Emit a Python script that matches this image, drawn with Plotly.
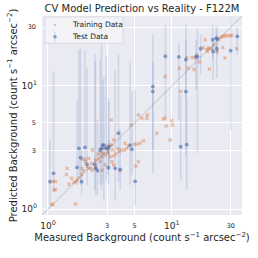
import plotly.graph_objects as go

# Training data (measured, predicted)
train_measured = [1.07, 1.10, 1.67, 1.12, 1.15, 1.43, 1.41, 1.48, 1.55, 1.62, 1.67, 1.72, 1.78, 1.87, 1.89,
                  1.95, 2.01, 2.07, 2.14, 2.21, 2.28, 2.25, 2.42, 2.46, 1.89, 1.99, 2.14, 2.28, 2.42, 2.54,
                  2.66, 2.78, 2.78, 2.92, 3.01, 2.58, 1.11, 1.15,
                  3.24, 5.38, 5.73, 6.36, 6.29, 4.70, 8.55, 8.83, 10.0, 10.1, 7.57, 9.69, 5.90, 5.55, 5.22,
                  4.99, 4.47, 4.34, 4.20, 4.15, 3.90, 3.76, 3.67, 3.38, 3.28, 3.18, 3.08, 3.32, 3.53, 3.38,
                  3.18, 2.90, 2.99, 2.73, 2.64, 3.28, 5.38, 5.13, 3.83, 3.38, 2.90, 2.73,
                  8.83, 11.5, 11.8, 13.6, 14.5, 15.4, 15.9, 16.7, 18.0, 18.6, 19.2, 19.7, 19.4, 20.4, 21.0,
                  21.9, 23.3, 23.8, 24.5, 25.3, 26.1, 26.9, 28.1, 29.5, 30.5, 25.8, 26.9, 20.1, 33.4, 15.1,
                  13.2, 9.0]
train_predicted = [1.09, 1.09, 1.10, 1.42, 1.67, 2.14, 1.91, 1.59, 1.78, 1.64, 1.67, 1.72, 1.80, 1.91, 2.14,
                   2.04, 2.42, 2.21, 2.14, 2.14, 2.07, 2.35, 2.21, 2.17, 2.55, 2.54, 2.58, 3.02, 2.50, 2.79,
                   2.89, 2.84, 3.11, 3.15, 2.84, 2.58, 1.68, 1.44,
                   5.29, 5.81, 5.46, 5.81, 5.46, 4.82, 5.38, 5.46, 5.22, 4.82, 4.13, 3.64, 3.59, 3.42, 3.36,
                   3.36, 3.25, 3.11, 3.42, 3.02, 3.02, 2.92, 3.11, 3.64, 3.31, 3.31, 2.92, 3.02, 2.80, 2.70,
                   2.66, 2.75, 3.25, 2.66, 2.42, 2.42, 2.42, 2.24, 2.05, 2.28, 2.28, 2.07,
                   11.9, 13.9, 8.99, 13.9, 17.0, 16.8, 17.9, 15.6, 20.5, 23.7, 19.6, 20.3, 19.0, 20.0, 20.0,
                   21.5, 19.0, 23.7, 24.4, 25.2, 25.2, 25.6, 25.5, 25.5, 25.6, 20.5, 16.8, 13.7, 20.0, 13.6,
                   17.0, 4.73]

# Test data (measured, predicted, upper and lower interval bounds)
test_measured = [1.11, 1.04, 1.78, 1.83, 1.72, 1.87, 1.99, 2.07, 2.39, 2.42, 2.71, 2.83, 2.95, 3.06, 2.64,
                 2.76, 3.12, 3.71, 3.49, 2.51, 4.61, 4.76, 5.06, 3.83, 3.08, 7.03, 7.03, 8.88, 11.4, 11.8,
                 13.0, 13.0, 13.2, 15.7, 16.1, 17.1, 21.4, 22.8, 23.3, 21.6, 23.1, 29.9, 33.8]
test_predicted = [1.95, 1.67, 3.11, 2.61, 2.18, 1.67, 3.17, 2.31, 2.31, 2.14, 3.11, 3.31, 3.11, 3.11, 3.02,
                  3.31, 3.21, 4.13, 2.14, 2.05, 3.31, 3.06, 1.68, 2.10, 2.17, 9.87, 8.99, 17.4, 17.2, 3.21,
                  16.3, 8.99, 3.33, 17.3, 17.3, 20.0, 23.7, 24.4, 24.1, 19.0, 20.0, 19.3, 25.2]
test_upper = [13.0, 3.64, 19.6, 20.4, 7.7, 3.02, 19.6, 14.0, 18.2, 15.7, 23.7, 11.8, 17.2, 8.0, 16.3,
              11.2, 7.41, 17.9, 13.5, 5.29, 15.4, 8.94, 9.27, 4.39, 3.64, 26.0, 15.7, 31.3, 22.4, 8.45,
              31.3, 23.7, 7.7, 23.7, 28.5, 26.0, 31.3, 30.2, 29.6, 23.7, 26.0, 36.4, 30.2]
test_lower = [1.43, 1.08, 1.89, 1.57, 1.57, 1.30, 2.28, 1.57, 1.43, 1.30, 1.43, 1.18, 1.72, 1.89, 1.57,
              1.63, 2.07, 1.66, 1.18, 1.30, 1.57, 1.89, 1.08, 1.43, 1.57, 3.02, 1.96, 5.5, 5.29, 1.72,
              7.7, 2.65, 1.43, 9.27, 2.85, 12.3, 16.3, 18.9, 17.9, 11.2, 11.6, 4.39, 17.9]

major_vals = [1, 10]
major_text = ["10<sup>0</sup>", "10<sup>1</sup>"]
minor_vals = [3, 5, 30]
minor_text = ["3", "5", "30"]
legend_labels = ["Training Data", "Test Data"]

TRAIN_COLOR = "rgba(221,132,82,0.5)"
TEST_COLOR = "rgba(76,114,176,0.65)"
BAR_COLOR = "rgba(76,114,176,0.17)"

err_plus = [u - p for u, p in zip(test_upper, test_predicted)]
err_minus = [p - l for p, l in zip(test_predicted, test_lower)]

fig = go.Figure()
fig.add_trace(go.Scatter(
    x=train_measured, y=train_predicted, mode="markers", name=legend_labels[0],
    marker=dict(symbol="x", size=3.5, color=TRAIN_COLOR, line=dict(width=0)),
))
fig.add_trace(go.Scatter(
    x=test_measured, y=test_predicted, mode="markers", name=legend_labels[1],
    marker=dict(symbol="circle", size=3.8, color=TEST_COLOR),
    error_y=dict(type="data", symmetric=False, array=err_plus, arrayminus=err_minus,
                 color=BAR_COLOR, thickness=1.6, width=0),
))
# empty trace to host the minor-tick axes
fig.add_trace(go.Scatter(x=[], y=[], xaxis="x2", yaxis="y2", showlegend=False, hoverinfo="skip"))

# y = x reference line
fig.add_shape(type="line", xref="paper", yref="paper", x0=0, y0=0, x1=1, y1=1,
              line=dict(color="rgba(128,128,128,0.5)", width=0.8), layer="above")

# compact legend box (matplotlib style)
fig.add_shape(type="rect", xref="paper", yref="paper", x0=0.015, x1=0.405, y0=0.863, y1=0.995,
              fillcolor="rgba(244,244,248,0.85)", line=dict(color="rgba(215,215,220,1)", width=0.8),
              layer="above")
fig.add_shape(type="line", xref="paper", yref="paper", x0=0.058, x1=0.072, y0=0.948, y1=0.962,
              line=dict(color=TRAIN_COLOR, width=1), layer="above")
fig.add_shape(type="line", xref="paper", yref="paper", x0=0.058, x1=0.072, y0=0.962, y1=0.948,
              line=dict(color=TRAIN_COLOR, width=1), layer="above")
fig.add_shape(type="line", xref="paper", yref="paper", x0=0.065, x1=0.065, y0=0.870, y1=0.920,
              line=dict(color=BAR_COLOR, width=1.6), layer="above")
fig.add_shape(type="circle", xref="paper", yref="paper", x0=0.056, x1=0.074, y0=0.887, y1=0.905,
              fillcolor=TEST_COLOR, line=dict(width=0), layer="above")
fig.add_annotation(xref="paper", yref="paper", x=0.14, y=0.955, xanchor="left", yanchor="middle",
                   text=legend_labels[0], showarrow=False, font=dict(size=7.5, color="#262626"))
fig.add_annotation(xref="paper", yref="paper", x=0.14, y=0.896, xanchor="left", yanchor="middle",
                   text=legend_labels[1], showarrow=False, font=dict(size=7.5, color="#262626"))

rng = [-0.048, 1.567]
base = dict(type="log", range=rng, showgrid=True, gridcolor="white", gridwidth=1,
            zeroline=False, showline=False, ticks="", automargin=False)

fig.update_layout(
    width=258, height=258,
    margin=dict(l=42, r=16, t=16, b=43, autoexpand=False),
    paper_bgcolor="white", plot_bgcolor="#EAEAF2",
    font=dict(family="DejaVu Sans", color="#262626"),
    title=dict(text="CV Model Prediction vs Reality - F122M", x=0.5, xanchor="center",
               xref="paper", y=0.967, yanchor="middle", font=dict(size=10, color="#262626"),
               automargin=False),
    xaxis=dict(**base, tickvals=major_vals, ticktext=major_text, ticklabelstandoff=4,
               tickfont=dict(size=9, color="#262626"),
               title=dict(text="Measured Background (count s<sup>\u22121</sup> arcsec<sup>\u22122</sup>)",
                          font=dict(size=10), standoff=1)),
    yaxis=dict(**base, tickvals=major_vals, ticktext=major_text, ticklabelstandoff=4,
               tickfont=dict(size=9, color="#262626"),
               title=dict(text="Predicted Background (count s<sup>\u22121</sup> arcsec<sup>\u22122</sup>)",
                          font=dict(size=10), standoff=2)),
    xaxis2=dict(**base, overlaying="x", side="bottom", anchor="y", tickvals=minor_vals, ticktext=minor_text,
                ticklabelstandoff=5, tickfont=dict(size=6.5, color="#262626")),
    yaxis2=dict(**base, overlaying="y", side="left", anchor="x", tickvals=minor_vals, ticktext=minor_text,
                ticklabelstandoff=5, tickfont=dict(size=6.5, color="#262626")),
    showlegend=False,
)

fig.write_html("out.html", config={"displayModeBar": False},
               post_script="document.body.style.margin='0';")
